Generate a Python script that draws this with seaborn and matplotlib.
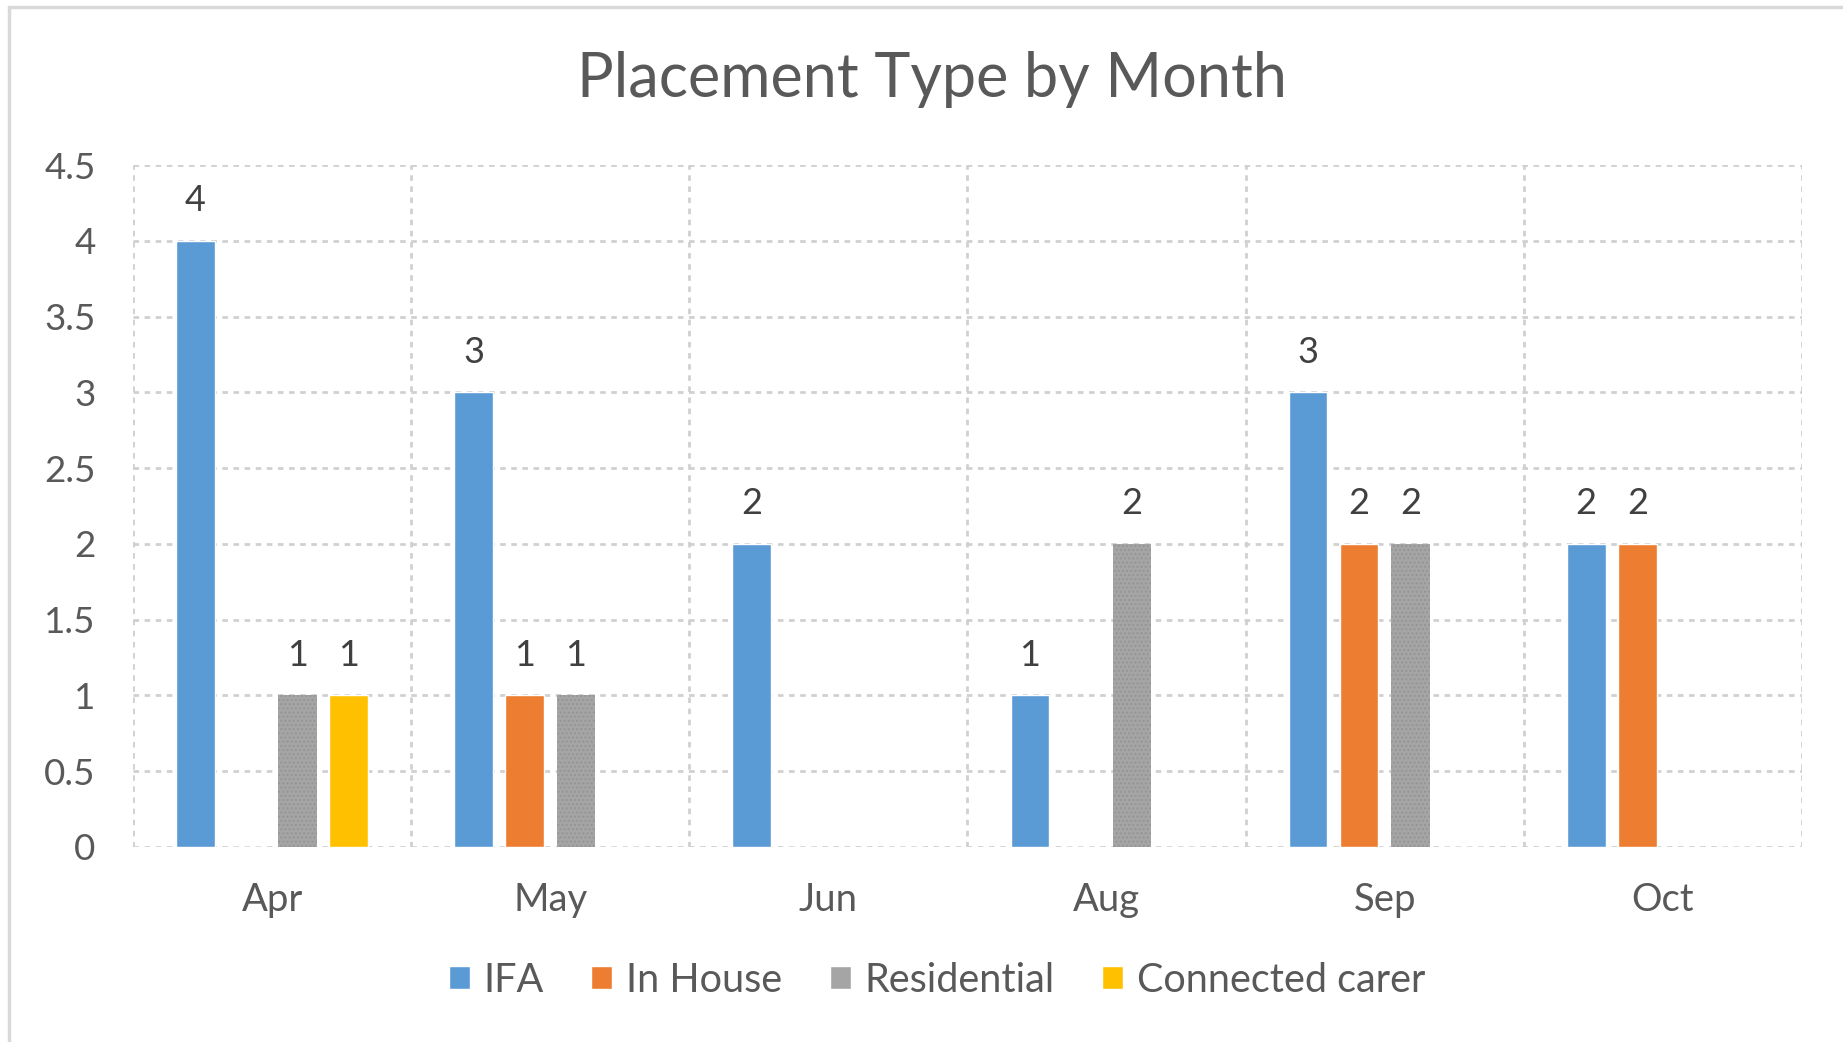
import matplotlib
matplotlib.use("Agg")
import matplotlib.pyplot as plt
from matplotlib.lines import Line2D
import seaborn as sns
import pandas as pd

months = ["Apr", "May", "Jun", "Aug", "Sep", "Oct"]
ifa = [4, 3, 2, 1, 3, 2]
in_house = [0, 1, 0, 0, 2, 2]
residential = [1, 1, 0, 2, 2, 0]
connected_carer = [1, 0, 0, 0, 0, 0]
series_names = ["IFA", "In House", "Residential", "Connected carer"]
colors = ["#5B9BD5", "#ED7D31", "#A5A5A5", "#FFC000"]
yticks = [0, 0.5, 1, 1.5, 2, 2.5, 3, 3.5, 4, 4.5]
title = "Placement Type by Month"

rows = []
for name, vals in zip(series_names, [ifa, in_house, residential, connected_carer]):
    for m, v in zip(months, vals):
        rows.append({"Month": m, "Count": v, "Type": name})
df = pd.DataFrame(rows)

sns.set_theme(style="white")
plt.rcParams["font.family"] = ["Lato", "DejaVu Sans"]

fig = plt.figure(figsize=(18.43, 10.42), dpi=100)
W, H = 1843, 1042
ax = fig.add_axes([133 / W, 1 - 847 / H, (1802 - 133) / W, (847 - 165) / H])

sns.barplot(data=df, x="Month", y="Count", hue="Type", order=months,
            hue_order=series_names, palette=colors, width=0.735, gap=0.245,
            saturation=1, ax=ax, legend=True)

# Residential pattern
for patch in ax.containers[2]:
    patch.set_hatch("....")
    patch.set_edgecolor("#959595")
    patch.set_linewidth(0)

for cont in ax.containers:
    labels = ["" if b.get_height() == 0 else f"{b.get_height():g}" for b in cont]
    ax.bar_label(cont, labels=labels, padding=17, fontsize=26, color="#404040")

ax.set_xlim(-0.5, len(months) - 0.5)
ax.set_ylim(0, 4.5)
ax.set_yticks(yticks)
ax.set_yticklabels([f"{t:g}" for t in yticks])
ax.set_xlabel("")
ax.set_ylabel("")
ax.tick_params(axis="y", length=0, pad=27, labelsize=26.5, labelcolor="#595959")
ax.tick_params(axis="x", length=0, pad=25, labelsize=27.5, labelcolor="#595959")
for s in ax.spines.values():
    s.set_visible(False)

gridkw = dict(color="#D0D0D0", lw=2, ls=(0, (2, 2)), zorder=0)
for y in yticks:
    ax.axhline(y, **gridkw)
for k in range(len(months) + 1):
    ax.axvline(k - 0.5, **gridkw)
ax.set_axisbelow(True)

fig.text(932 / W, 1 - 80 / H, title, ha="center", va="center",
         fontsize=44, color="#595959")

handles, labs = ax.get_legend_handles_labels()
ax.legend_.remove()
leg = fig.legend(handles, labs, loc="center", bbox_to_anchor=(937 / W, 1 - 980 / H),
                 ncol=4, frameon=False, fontsize=28.5, handlelength=0.53,
                 handleheight=0.53, handletextpad=0.35, columnspacing=1.2)
for t in leg.get_texts():
    t.set_color("#595959")

# outer chart frame (left and top edges visible)
fig.add_artist(Line2D([9 / W, 9 / W], [0, 1 - 7 / H], transform=fig.transFigure,
                      color="#D9D9D9", lw=2.5))
fig.add_artist(Line2D([9 / W, 1], [1 - 7 / H, 1 - 7 / H], transform=fig.transFigure,
                      color="#D9D9D9", lw=2.5))

fig.savefig("out.png", dpi=100, facecolor="white")
